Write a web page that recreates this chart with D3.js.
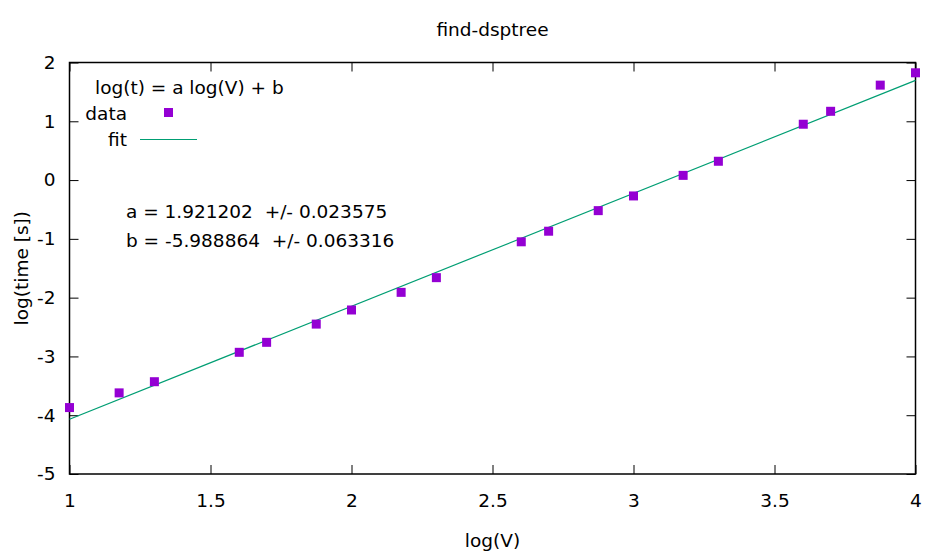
<!DOCTYPE html>
<html>
<head>
<meta charset="utf-8">
<script src="https://cdn.jsdelivr.net/npm/d3@7"></script>
<style>
  body { margin: 0; background: #fff; }
  text { font-family: Tahoma, "DejaVu Sans", sans-serif; font-size: 18.5px; fill: #000; }
</style>
</head>
<body>
<svg width="928" height="557"></svg>
<script>
var logV = [1, 1.176, 1.301, 1.602, 1.699, 1.875, 2, 2.176, 2.301, 2.602, 2.699, 2.875, 3, 3.176, 3.301, 3.602, 3.699, 3.875, 4];
var logT = [-3.87, -3.62, -3.43, -2.93, -2.76, -2.45, -2.21, -1.91, -1.66, -1.05, -0.87, -0.52, -0.27, 0.08, 0.32, 0.95, 1.17, 1.615, 1.825];
var fitA = 1.921202;
var fitB = -5.988864;
var xTicks = [1, 1.5, 2, 2.5, 3, 3.5, 4];
var yTicks = [-5, -4, -3, -2, -1, 0, 1, 2];
var fitLines = ["a = 1.921202  +/- 0.023575", "b = -5.988864  +/- 0.063316"];

var pointColor = "#9400d3";
var lineColor = "#009e73";

function plainNum(d){ return String(d); }

function drawChart(){
    var svg = d3.select("svg");
    var margin = {top: 62.5, right: 12.5, bottom: 83, left: 69.5};
    var width = +svg.attr("width") - margin.left - margin.right;
    var height = +svg.attr("height") - margin.top - margin.bottom;
    var g = svg.append("g").attr("transform", "translate(" + margin.left + "," + margin.top + ")");

    var x = d3.scaleLinear().domain([1, 4]).range([0, width]);
    var y = d3.scaleLinear().domain([-5, 2]).range([height, 0]);

    // axes with inward ticks, mirrored on top and right
    g.append("g").attr("transform", "translate(0," + height + ")")
        .call(d3.axisBottom(x).tickValues(xTicks).tickSize(-9).tickPadding(20).tickFormat(plainNum))
        .call(function(a){ a.select(".domain").remove(); });
    g.append("g")
        .call(d3.axisTop(x).tickValues(xTicks).tickSize(-9).tickFormat(""))
        .call(function(a){ a.select(".domain").remove(); });
    g.append("g")
        .call(d3.axisLeft(y).tickValues(yTicks).tickSize(-9).tickPadding(14).tickFormat(plainNum))
        .call(function(a){ a.select(".domain").remove(); });
    g.append("g").attr("transform", "translate(" + width + ",0)")
        .call(d3.axisRight(y).tickValues(yTicks).tickSize(-9).tickFormat(""))
        .call(function(a){ a.select(".domain").remove(); });
    g.selectAll(".tick line").attr("stroke", "#000");
    g.selectAll(".tick text").style("font-size", "18.5px").attr("fill", "#000");

    g.append("rect")
        .attr("width", width).attr("height", height)
        .attr("fill", "none").attr("stroke", "#000").attr("stroke-width", 1.5);

    // fit line
    g.append("line")
        .attr("x1", x(1)).attr("y1", y(fitA * 1 + fitB))
        .attr("x2", x(4)).attr("y2", y(fitA * 4 + fitB))
        .attr("stroke", lineColor).attr("stroke-width", 1.2);

    // data points
    g.selectAll(".pt")
        .data(logV)
        .enter().append("rect")
        .attr("class", "pt")
        .attr("x", function(d){ return x(d) - 4.5; })
        .attr("y", function(d, i){ return y(logT[i]) - 4.5; })
        .attr("width", 9).attr("height", 9)
        .attr("fill", pointColor);

    // legend
    svg.append("text").attr("x", 95).attr("y", 94).text("log(t) = a log(V) + b");
    svg.append("text").attr("x", 127).attr("y", 120).attr("text-anchor", "end").text("data");
    svg.append("rect").attr("x", 164).attr("y", 108).attr("width", 9).attr("height", 9).attr("fill", pointColor);
    svg.append("text").attr("x", 127).attr("y", 146).attr("text-anchor", "end").text("fit");
    svg.append("line").attr("x1", 140).attr("x2", 197).attr("y1", 139.5).attr("y2", 139.5)
        .attr("stroke", lineColor).attr("stroke-width", 1.2);

    svg.selectAll(".fittxt")
        .data(fitLines)
        .enter().append("text")
        .attr("class", "fittxt")
        .attr("x", 126)
        .attr("y", function(d, i){ return 218 + i * 29; })
        .style("white-space", "pre")
        .text(function(d){ return d; });

    // titles
    svg.append("text").attr("x", margin.left + width / 2).attr("y", 36)
        .attr("text-anchor", "middle").text("find-dsptree");
    svg.append("text").attr("x", margin.left + width / 2).attr("y", 547)
        .attr("text-anchor", "middle").text("log(V)");
    svg.append("text")
        .attr("transform", "translate(28," + (margin.top + height / 2) + ") rotate(-90)")
        .attr("text-anchor", "middle").text("log(time [s])");
}

drawChart();
</script>
</body>
</html>
